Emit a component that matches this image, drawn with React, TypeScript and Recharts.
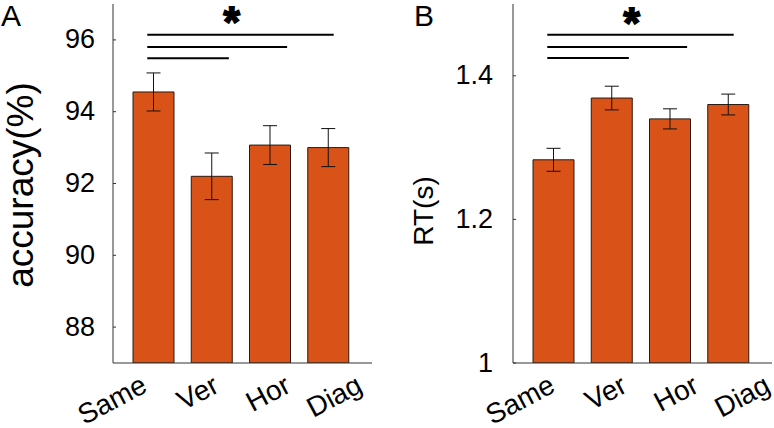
import React from 'react';
import { BarChart, Bar, XAxis, YAxis, ErrorBar, ReferenceLine } from 'recharts';

const categories = ['Same', 'Ver', 'Hor', 'Diag'];
const accuracyMean = [94.55, 92.2, 93.07, 93.0];
const accuracyErr = [0.53, 0.65, 0.54, 0.53];
const rtMean = [1.283, 1.369, 1.34, 1.36];
const rtErr = [0.016, 0.0165, 0.014, 0.0145];
const accuracyTicks = [88, 90, 92, 94, 96];
const rtTicks = [1, 1.2, 1.4];

// significance brackets: Same vs Ver / Hor / Diag (ends in category-index units)
const sigStart = -0.1;
const sigEnds = [1.3, 2.3, 3.1];
const accuracySigY = [95.49, 95.8, 96.145];
const rtSigY = [1.4248, 1.4401, 1.4572];
const starX = 1.35;
const accuracyStarY = 96.75;
const rtStarY = 1.487;

const FONT = 'Liberation Sans, Arial, sans-serif';
const ORANGE = '#D95319';
const AXIS = '#333333';

const accData = categories.map((c, i) => ({ name: c, value: accuracyMean[i], err: accuracyErr[i] }));
const rtData = categories.map((c, i) => ({ name: c, value: rtMean[i], err: rtErr[i] }));

const makeXTick = (base: number) => (props: any) => {
  const { x, y, payload, index } = props;
  const ex = x + base + (index - 1.5) * 13.5;
  const ey = y + 28;
  return (
    <text
      x={ex}
      y={ey}
      transform={`rotate(-28, ${ex}, ${ey})`}
      textAnchor="end"
      fontSize={28}
      fontFamily={FONT}
      fill="#000"
    >
      {payload.value}
    </text>
  );
};

const makeYTick = (gap: number) => (props: any) => {
  const { x, y, payload } = props;
  return (
    <g>
      <line x1={x} y1={y} x2={x + 3} y2={y} stroke={AXIS} strokeWidth={1} />
      <text x={x - gap} y={y + 8.5} textAnchor="end" fontSize={27} fontFamily={FONT} fill="#000">
        {payload.value}
      </text>
    </g>
  );
};

const makeYLabel = (text: string, size: number, bx: number, dy: number) => (props: any) => {
  const vb = props.viewBox || { x: 0, y: 0, width: 0, height: 0 };
  const x = vb.x + bx;
  const y = vb.y + vb.height / 2 + dy;
  return (
    <text
      x={x}
      y={y}
      transform={`rotate(-90, ${x}, ${y})`}
      textAnchor="middle"
      fontSize={size}
      fontFamily={FONT}
      fill="#000"
    >
      {text}
    </text>
  );
};

// bracket line from slightly left of "Same" to a fraction past the target category centre
const makeSigLine = (targetIdx: number, endFrac: number) => (props: any) => {
  const { x1, y1, x2 } = props;
  const band = (x2 - x1) / targetIdx;
  return (
    <line
      x1={x1 + sigStart * band}
      x2={x1 + endFrac * band}
      y1={y1}
      y2={y1}
      stroke="#000"
      strokeWidth={2}
    />
  );
};

const makeStar = (targetIdx: number) => (props: any) => {
  const { x1, y1, x2 } = props;
  const band = (x2 - x1) / targetIdx;
  return (
    <text
      x={x1 + starX * band}
      y={y1 + 23.5}
      textAnchor="middle"
      fontSize={42}
      fontWeight="bold"
      fontFamily={FONT}
      fill="#000"
      stroke="#000"
      strokeWidth={1.8}
    >
      *
    </text>
  );
};

interface PanelProps {
  data: any[];
  domain: [number, number];
  ticks: number[];
  sigY: number[];
  starY: number;
  width: number;
  rightMargin: number;
  xBase: number;
  yGap: number;
  label: string;
  labelSize: number;
  labelBx: number;
  labelDy: number;
}

const Panel = (p: PanelProps) => (
  <BarChart
    width={p.width}
    height={428}
    data={p.data}
    margin={{ top: 4, right: p.rightMargin, left: 0, bottom: 0 }}
  >
    <XAxis
      dataKey="name"
      type="category"
      height={65}
      padding={{ left: 11, right: 15 }}
      axisLine={{ stroke: AXIS }}
      tickLine={false}
      tickSize={0}
      tickMargin={0}
      interval={0}
      tick={makeXTick(p.xBase)}
    />
    <YAxis
      type="number"
      domain={p.domain}
      ticks={p.ticks}
      allowDataOverflow
      width={113}
      axisLine={{ stroke: AXIS }}
      tickLine={false}
      tickSize={0}
      tickMargin={0}
      interval={0}
      tick={makeYTick(p.yGap)}
      label={makeYLabel(p.label, p.labelSize, p.labelBx, p.labelDy)}
    />
    <Bar dataKey="value" fill={ORANGE} stroke="#2b1a12" strokeWidth={1} barSize={41} isAnimationActive={false}>
      <ErrorBar dataKey="err" width={7} stroke="#111" strokeWidth={1} isAnimationActive={false} />
    </Bar>
    {sigEnds.map((end, i) => (
      <ReferenceLine
        key={i}
        segment={[{ x: categories[0], y: p.sigY[i] }, { x: categories[i + 1], y: p.sigY[i] }]}
        shape={makeSigLine(i + 1, end)}
        ifOverflow="visible"
      />
    ))}
    <ReferenceLine
      segment={[{ x: categories[0], y: p.starY }, { x: categories[3], y: p.starY }]}
      shape={makeStar(3)}
      ifOverflow="visible"
    />
  </BarChart>
);

export default function App() {
  return (
    <div style={{ position: 'absolute', left: 0, top: 0, width: 774, height: 428, background: '#fff', overflow: 'hidden' }}>
      <div style={{ position: 'absolute', left: 0, top: 0 }}>
        <Panel
          data={accData}
          domain={[87, 97]}
          ticks={accuracyTicks}
          sigY={accuracySigY}
          starY={accuracyStarY}
          width={400}
          rightMargin={28}
          xBase={16}
          yGap={18}
          label="accuracy(%)"
          labelSize={37}
          labelBx={33}
          labelDy={1.5}
        />
      </div>
      <div style={{ position: 'absolute', left: 400, top: 0 }}>
        <Panel
          data={rtData}
          domain={[1, 1.5]}
          ticks={rtTicks}
          sigY={rtSigY}
          starY={rtStarY}
          width={374}
          rightMargin={2}
          xBase={24}
          yGap={20}
          label="RT(s)"
          labelSize={28}
          labelBx={33}
          labelDy={27.5}
        />
      </div>
      <svg width={774} height={428} style={{ position: 'absolute', left: 0, top: 0, pointerEvents: 'none' }}>
        <text x={1} y={26} fontSize={30} fontFamily={FONT} fill="#000">A</text>
        <text x={414} y={26} fontSize={30} fontFamily={FONT} fill="#000">B</text>
      </svg>
    </div>
  );
}
